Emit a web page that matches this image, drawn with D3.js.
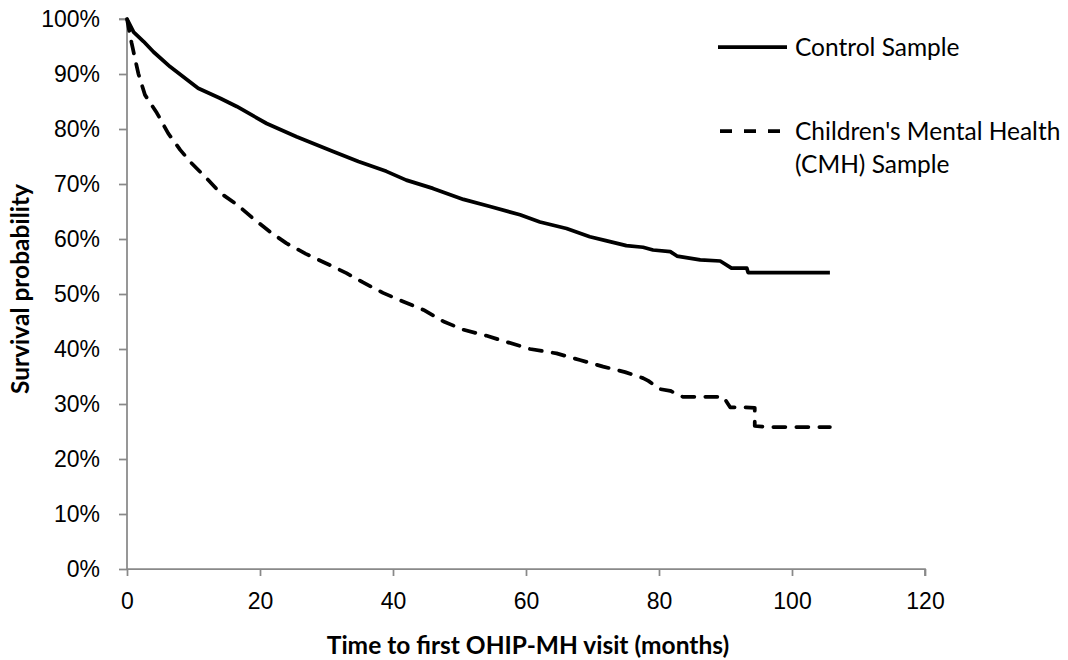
<!DOCTYPE html>
<html>
<head>
<meta charset="utf-8">
<script src="https://cdn.jsdelivr.net/npm/d3@7"></script>
<style>
  body { margin: 0; background: #fff; }
  svg { display: block; font-family: Lato, "Open Sans", sans-serif; }
  .axis path, .axis line { stroke: #898989; stroke-width: 1.75; }
  .axis text { fill: #000; font-size: 23px; }
</style>
</head>
<body>
<svg class="chart" width="1068" height="660"></svg>
<script>
// Kaplan-Meier curves: months, survival %
var controlMonths = [0, 1, 2.5, 4, 6.5, 10.7, 14, 16.5, 21, 25.5, 31, 34.8, 39, 42, 46, 50.6, 54.6, 59.1, 62.1, 66.1, 69.6, 72, 75.1, 77.6, 79.1, 81.7, 82.7, 86.2, 89.2, 90.9, 93.2, 93.4, 105.7];
var controlValues = [100, 97.6, 95.9, 94.0, 91.3, 87.4, 85.6, 84.1, 81.0, 78.6, 75.9, 74.1, 72.3, 70.7, 69.2, 67.2, 65.9, 64.4, 63.1, 61.9, 60.4, 59.7, 58.8, 58.5, 58.0, 57.7, 56.9, 56.2, 56.0, 54.7, 54.7, 53.9, 53.9];

var cmhMonths = [0, 0.7, 1.7, 2.7, 4.5, 6.2, 8, 9.7, 12, 14, 16.6, 19, 21.5, 24, 26.9, 29.9, 33, 35.5, 38.5, 41.6, 44.6, 47.6, 50.6, 54.1, 57.3, 60.6, 64.6, 68.1, 71.6, 74.9, 77.6, 78.4, 80.2, 81.7, 83.6, 89.7, 90.7, 92.7, 94.4, 94.4, 96.2, 105.7];
var cmhValues = [100, 95.6, 90.1, 86.2, 82.9, 79.2, 76.2, 73.8, 71.0, 68.4, 66.2, 63.7, 61.3, 59.2, 57.3, 55.6, 53.8, 52.1, 50.2, 48.6, 47.1, 45.0, 43.5, 42.4, 41.2, 40.0, 39.2, 38.0, 36.8, 35.8, 34.7, 34.2, 32.7, 32.4, 31.3, 31.3, 29.4, 29.4, 29.3, 26.0, 25.8, 25.8];

var xTicks = [0, 20, 40, 60, 80, 100, 120];
var yTicks = [0, 10, 20, 30, 40, 50, 60, 70, 80, 90, 100];
var seriesNames = ["Control Sample", ["Children's Mental Health", "(CMH) Sample"]];

var svg = d3.select(".chart"),
    margin = { top: 19, right: 143, bottom: 91, left: 127 },
    width = +svg.attr("width") - margin.left - margin.right,
    height = +svg.attr("height") - margin.top - margin.bottom,
    g = svg.append("g").attr("transform", "translate(" + margin.left + "," + margin.top + ")");

var x = d3.scaleLinear().domain([0, 120]).range([0, width]);
var y = d3.scaleLinear().domain([0, 100]).range([height, 0]);

// axes
var gx = g.append("g")
    .attr("class", "axis")
    .attr("transform", "translate(0," + height + ")")
    .call(d3.axisBottom(x).tickValues(xTicks).tickSize(7).tickSizeOuter(7).tickPadding(17));
gx.selectAll("text").attr("dy", "0.71em");

var gy = g.append("g")
    .attr("class", "axis")
    .call(d3.axisLeft(y).tickValues(yTicks).tickSize(8).tickSizeOuter(8).tickPadding(19)
        .tickFormat(function (d) { return d + "%"; }));

// no outer tick at the top of the y axis, just the line
gy.select(".domain").attr("d", "M-8," + y(100) + "H0V" + y(0));
gx.select(".domain").attr("d", "M0,0H" + width + "V7");

var line = d3.line()
    .x(function (d) { return x(d[0]); })
    .y(function (d) { return y(d[1]); });

var control = d3.zip(controlMonths, controlValues);
var cmh = d3.zip(cmhMonths, cmhValues);

g.append("path")
    .datum(control)
    .attr("d", line)
    .attr("fill", "none")
    .attr("stroke", "#000")
    .attr("stroke-width", 3.75)
    .attr("stroke-linejoin", "round");

g.append("path")
    .datum(cmh)
    .attr("d", line)
    .attr("fill", "none")
    .attr("stroke", "#000")
    .attr("stroke-width", 3.75)
    .attr("stroke-dasharray", "12,11")
    .attr("stroke-linecap", "round")
    .attr("stroke-linejoin", "round");

// legend
var legend = svg.append("g").attr("transform", "translate(718,0)");
legend.append("line")
    .attr("x1", 0).attr("x2", 69).attr("y1", 47).attr("y2", 47)
    .attr("stroke", "#000").attr("stroke-width", 3.75);
legend.append("text")
    .attr("x", 77).attr("y", 47).attr("dy", "0.35em")
    .style("font-size", "24.5px")
    .text(seriesNames[0]);

legend.append("line")
    .attr("x1", 2).attr("x2", 69).attr("y1", 131).attr("y2", 131)
    .attr("stroke", "#000").attr("stroke-width", 3.75)
    .attr("stroke-dasharray", "12,12");
legend.append("text")
    .attr("x", 77).attr("y", 131).attr("dy", "0.35em")
    .style("font-size", "24.5px")
    .text(seriesNames[1][0]);
legend.append("text")
    .attr("x", 77).attr("y", 164).attr("dy", "0.35em")
    .style("font-size", "24.5px")
    .text(seriesNames[1][1]);

// axis titles
svg.append("text")
    .attr("x", 528).attr("y", 654)
    .attr("text-anchor", "middle")
    .style("font-size", "24.5px").style("font-weight", "bold")
    .text("Time to first OHIP-MH visit (months)");

svg.append("text")
    .attr("transform", "translate(29,289) rotate(-90)")
    .attr("text-anchor", "middle")
    .style("font-size", "24.5px").style("font-weight", "bold")
    .text("Survival probability");
</script>
</body>
</html>
